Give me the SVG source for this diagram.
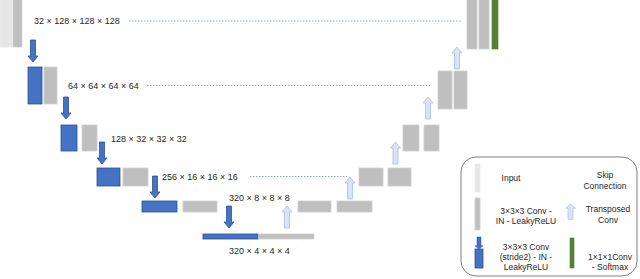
<svg xmlns="http://www.w3.org/2000/svg" xmlns:xlink="http://www.w3.org/1999/xlink" width="640" height="279" viewBox="0 0 640 279">
<defs>
<style>
.bg{fill:#ffffff}
.blue{fill:#4472c4;stroke:#2f528f;stroke-width:0.8}
.gray{fill:#bfbfbf;stroke:#d0d0d0;stroke-width:0.8}
.inp{fill:#e7e6e6;stroke:#ececec;stroke-width:0.8}
.green{fill:#548235;stroke:#4e7a30;stroke-width:0.6}
.down{fill:#4472c4;stroke:#2f528f;stroke-width:0.8}
.up{fill:#dae3f3;stroke:#a9bfe4;stroke-width:0.8}
.skip{stroke:#8faadc;stroke-width:1;stroke-dasharray:1.5 1.5;fill:none}
.lbl{font-family:"Liberation Sans",Arial,sans-serif;font-size:9px;fill:#262626}
.leg{font-family:"Liberation Sans",Arial,sans-serif;font-size:8.5px;fill:#262626;text-anchor:middle}
.box{fill:#ffffff;stroke:#7f7f7f;stroke-width:1}
</style>
<path id="arrDown" d="M-2.5,0 H2.5 V16 H5 L0,22 L-5,16 H-2.5 Z"/>
<path id="arrUp" d="M-2.5,22 H2.5 V6 H5 L0,0 L-5,6 H-2.5 Z"/>
</defs>
<rect class="bg" x="0" y="0" width="640" height="279"/>

<g id="enc0">
<rect class="inp" x="0" y="-2" width="12" height="49"/>
<rect class="gray" x="13" y="-2" width="9" height="49"/>
<text class="lbl" x="34" y="24">32 × 128 × 128 × 128</text>
</g>
<g id="enc1">
<rect class="blue" x="28" y="67" width="14" height="37"/>
<rect class="gray" x="44" y="67" width="13" height="37"/>
<text class="lbl" x="68" y="89">64 × 64 × 64 × 64</text>
</g>
<g id="enc2">
<rect class="blue" x="61" y="125" width="16" height="26"/>
<rect class="gray" x="82" y="125" width="15" height="26"/>
<text class="lbl" x="111" y="141.5">128 × 32 × 32 × 32</text>
</g>
<g id="enc3">
<rect class="blue" x="97" y="168" width="23" height="18"/>
<rect class="gray" x="123" y="168" width="25" height="18"/>
<text class="lbl" x="162" y="179.5">256 × 16 × 16 × 16</text>
</g>
<g id="enc4">
<rect class="blue" x="142" y="201" width="35" height="11"/>
<rect class="gray" x="183" y="201" width="34" height="11"/>
<text class="lbl" x="229" y="201">320 × 8 × 8 × 8</text>
</g>
<g id="bottleneck">
<rect class="blue" x="203" y="234" width="55" height="5"/>
<rect class="gray" x="259" y="234" width="55" height="5"/>
<text class="lbl" x="229" y="253.5">320 × 4 × 4 × 4</text>
</g>
<g id="dec4">
<rect class="gray" x="298" y="201" width="33" height="11"/>
<rect class="gray" x="337" y="201" width="35" height="11"/>
</g>
<g id="dec3">
<rect class="gray" x="359" y="168" width="24" height="18"/>
<rect class="gray" x="388" y="168" width="23" height="18"/>
</g>
<g id="dec2">
<rect class="gray" x="403" y="125" width="16" height="26"/>
<rect class="gray" x="424" y="125" width="15" height="26"/>
</g>
<g id="dec1">
<rect class="gray" x="438" y="71" width="14" height="38"/>
<rect class="gray" x="454" y="71" width="13" height="38"/>
</g>
<g id="dec0">
<rect class="gray" x="467" y="-2" width="10" height="51"/>
<rect class="gray" x="479" y="-2" width="10" height="51"/>
<rect class="green" x="492" y="-2" width="6" height="51"/>
</g>

<g id="connectors">
<line class="skip" x1="129" y1="21" x2="461" y2="21"/>
<line class="skip" x1="147" y1="85.5" x2="431" y2="85.5"/>
<line class="skip" x1="250" y1="176.5" x2="347" y2="176.5"/>
<use xlink:href="#arrDown" class="down" transform="translate(33,40)"/>
<use xlink:href="#arrDown" class="down" transform="translate(66,97)"/>
<use xlink:href="#arrDown" class="down" transform="translate(102,142)"/>
<use xlink:href="#arrDown" class="down" transform="translate(155,176)"/>
<use xlink:href="#arrDown" class="down" transform="translate(229,206)"/>
<use xlink:href="#arrUp" class="up" transform="translate(287,206)"/>
<use xlink:href="#arrUp" class="up" transform="translate(350,177)"/>
<use xlink:href="#arrUp" class="up" transform="translate(395.5,142)"/>
<use xlink:href="#arrUp" class="up" transform="translate(428,97)"/>
<use xlink:href="#arrUp" class="up" transform="translate(457,47)"/>
</g>

<g id="legend">
<rect class="box" x="461" y="157" width="176" height="119" rx="15" ry="15"/>
<rect class="inp" x="475" y="164" width="5" height="28"/>
<text class="leg" x="511" y="181">Input</text>
<text class="leg" x="605" y="178">Skip</text>
<text class="leg" x="605" y="189">Connection</text>
<rect class="gray" x="475" y="198" width="5" height="32"/>
<text class="leg" x="526" y="214">3×3×3 Conv -</text>
<text class="leg" x="526" y="224">IN - LeakyReLU</text>
<use xlink:href="#arrUp" class="up" transform="translate(570.5,204) scale(1,0.7)"/>
<text class="leg" x="608" y="212">Transposed</text>
<text class="leg" x="608" y="223">Conv</text>
<use xlink:href="#arrDown" class="down" transform="translate(479,237) scale(0.8,0.55)"/>
<rect class="blue" x="475" y="249" width="8" height="19"/>
<text class="leg" x="526" y="250">3×3×3 Conv</text>
<text class="leg" x="526" y="260">(stride2) - IN -</text>
<text class="leg" x="526" y="270">LeakyReLU</text>
<rect class="green" x="570" y="238" width="4" height="30"/>
<text class="leg" x="610" y="260">1×1×1Conv</text>
<text class="leg" x="610" y="270">- Softmax</text>
</g>
</svg>
